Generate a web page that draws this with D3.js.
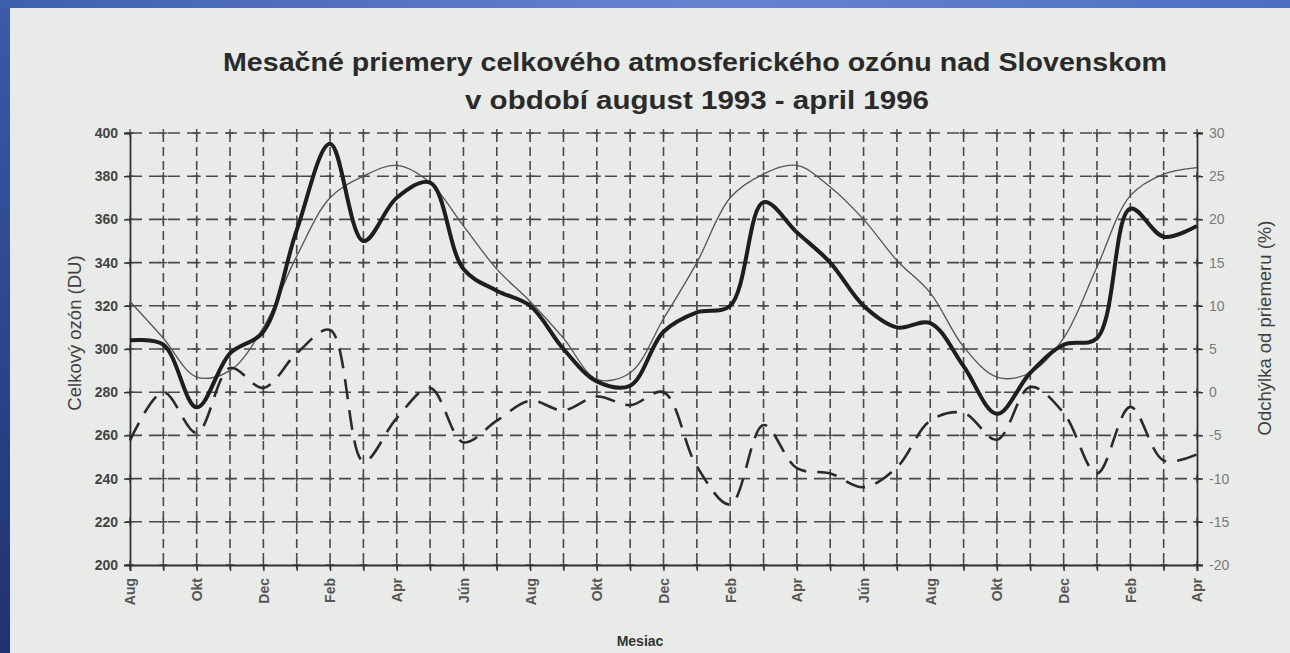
<!DOCTYPE html>
<html>
<head>
<meta charset="utf-8">
<script src="https://cdn.jsdelivr.net/npm/d3@7"></script>
<style>
  body { margin: 0; padding: 0; overflow: hidden; background: #2a4590; }
  text { font-family: "Liberation Sans", Arial, sans-serif; }
</style>
</head>
<body>
<div id="ozone-chart"></div>
<script>
// months Aug 1993 .. Apr 1996
const monthLabels = ["Aug","Sep","Okt","Nov","Dec","Jan","Feb","Mar","Apr","Máj","Jún","Júl",
                     "Aug","Sep","Okt","Nov","Dec","Jan","Feb","Mar","Apr","Máj","Jún","Júl",
                     "Aug","Sep","Okt","Nov","Dec","Jan","Feb","Mar","Apr"]
// monthly mean total ozone (DU) - thick line
const ozoneMonthly = [304,302,273,298,308,355,395,350,370,377,337,327,
                      320,300,285,283,308,317,320,368,354,340,320,310,
                      312,292,270,289,302,305,365,352,357]
// long term mean (DU) - thin line
const ozoneNormal = [322,305,287,290,310,343,370,380,385,377,357,337,
                     322,305,286,289,314,340,370,381,385,375,360,341,
                     326,301,287,289,305,338,371,381,384]
// deviation from mean (%) - dashed line, right axis
const deviation = [-5.6,0,-4.7,2.8,0.5,4.5,7.2,-8,-3,0.5,-5.8,-3.3,
                   -1,-2.1,-0.5,-1.5,0,-8.6,-13,-3.8,-8.8,-9.4,-11,-8.7,
                   -3.3,-2.4,-5.5,0.6,-2.4,-9.4,-1.7,-7.9,-7.2]
const leftTicks = [200,220,240,260,280,300,320,340,360,380,400]
const rightTicks = [-20,-15,-10,-5,0,5,10,15,20,25,30]

const W = 1290, H = 653
const margin = {top: 133, right: 93, bottom: 88, left: 130}
const width = W - margin.left - margin.right
const height = H - margin.top - margin.bottom

const svg = d3.select('#ozone-chart')
    .append('svg')
    .attr('width', W)
    .attr('height', H)

// blue frame + paper
const defs = svg.append('defs')
const gTop = defs.append('linearGradient').attr('id', 'topband')
gTop.append('stop').attr('offset', '0%').attr('stop-color', '#3e5fb0')
gTop.append('stop').attr('offset', '55%').attr('stop-color', '#6584d0')
gTop.append('stop').attr('offset', '100%').attr('stop-color', '#4d6fc2')
const gLeft = defs.append('linearGradient').attr('id', 'leftband')
    .attr('x1', 0).attr('y1', 0).attr('x2', 0).attr('y2', 1)
gLeft.append('stop').attr('offset', '0%').attr('stop-color', '#3b5aa8')
gLeft.append('stop').attr('offset', '100%').attr('stop-color', '#1f3273')

svg.append('rect').attr('width', W).attr('height', H).attr('fill', 'url(#leftband)')
svg.append('rect').attr('width', W).attr('height', 8).attr('fill', 'url(#topband)')
svg.append('rect').attr('x', 10).attr('y', 8).attr('width', W - 10).attr('height', H - 8)
    .attr('fill', '#e8ebe7')

const g = svg.append('g').attr('transform', 'translate(' + margin.left + ',' + margin.top + ')')

const x = d3.scaleLinear().domain([0, monthLabels.length - 1]).range([0, width])
const y = d3.scaleLinear().domain([200, 400]).range([height, 0])
const y2 = d3.scaleLinear().domain([-20, 30]).range([height, 0])

// grid
const gridColor = '#4a4a4a'
g.selectAll('.hgrid').data(leftTicks.filter(d => d > 200))
    .enter().append('line')
    .attr('x1', 0).attr('x2', width)
    .attr('y1', d => y(d)).attr('y2', d => y(d))
    .attr('stroke', gridColor).attr('stroke-width', 1.6)
    .attr('stroke-dasharray', '12,7')
g.selectAll('.vgrid').data(d3.range(1, monthLabels.length - 1))
    .enter().append('line')
    .attr('x1', d => x(d)).attr('x2', d => x(d))
    .attr('y1', 0).attr('y2', height)
    .attr('stroke', gridColor).attr('stroke-width', 1.6)
    .attr('stroke-dasharray', '9,5')

// little crosses at grid crossings
const cross = []
d3.range(0, monthLabels.length).forEach(i => leftTicks.forEach(v => cross.push([i, v])))
g.selectAll('.cross').data(cross).enter().append('path')
    .attr('d', d => 'M' + (x(d[0]) - 4) + ',' + y(d[1]) + 'h8M' + x(d[0]) + ',' + (y(d[1]) - 4) + 'v8')
    .attr('stroke', gridColor).attr('stroke-width', 1.4)

// axes
const leftAxis = g.append('g')
    .call(d3.axisLeft(y).tickValues(leftTicks).tickSize(6).tickPadding(6))
leftAxis.select('.domain').attr('stroke', '#333').attr('stroke-width', 1.8)
leftAxis.selectAll('line').attr('stroke', '#333').attr('stroke-width', 1.4)
leftAxis.selectAll('text').attr('font-size', 14).attr('font-weight', 'bold').attr('fill', '#444')

const rightAxis = g.append('g').attr('transform', 'translate(' + width + ',0)')
    .call(d3.axisRight(y2).tickValues(rightTicks).tickSize(6).tickPadding(6)
        .tickFormat(d => String(d)))
rightAxis.select('.domain').attr('stroke', '#333').attr('stroke-width', 1.8)
rightAxis.selectAll('line').attr('stroke', '#333').attr('stroke-width', 1.4)
rightAxis.selectAll('text').attr('font-size', 14).attr('fill', '#7a7a7a')

const bottomAxis = g.append('g').attr('transform', 'translate(0,' + height + ')')
    .call(d3.axisBottom(x).tickValues(d3.range(0, monthLabels.length)).tickSize(6)
        .tickFormat(i => i % 2 == 0 ? monthLabels[i] : ''))
bottomAxis.select('.domain').attr('stroke', '#333').attr('stroke-width', 1.8)
bottomAxis.selectAll('line').attr('stroke', '#333').attr('stroke-width', 1.4)
bottomAxis.selectAll('text')
    .attr('font-size', 14).attr('font-weight', 'bold').attr('fill', '#555')
    .attr('transform', 'rotate(-90)')
    .attr('text-anchor', 'end')
    .attr('x', -13).attr('y', 0).attr('dy', '0.35em')

// lines
const lineDU = d3.line().x((d, i) => x(i)).y(d => y(d)).curve(d3.curveCatmullRom)
const linePct = d3.line().x((d, i) => x(i)).y(d => y2(d)).curve(d3.curveCatmullRom)

g.append('path').datum(ozoneNormal)
    .attr('fill', 'none').attr('stroke', '#555').attr('stroke-width', 1.3)
    .attr('d', lineDU)
g.append('path').datum(deviation)
    .attr('fill', 'none').attr('stroke', '#2a2a2a').attr('stroke-width', 2.6)
    .attr('stroke-dasharray', '20,11')
    .attr('d', linePct)
g.append('path').datum(ozoneMonthly)
    .attr('fill', 'none').attr('stroke', '#1e1e1e').attr('stroke-width', 4)
    .attr('stroke-linejoin', 'round')
    .attr('d', lineDU)

// titles
svg.append('text').attr('x', 695).attr('y', 71).attr('text-anchor', 'middle')
    .attr('font-size', 26).attr('font-weight', 'bold').attr('fill', '#2a2a2a')
    .attr('textLength', 944).attr('lengthAdjust', 'spacingAndGlyphs')
    .text('Mesačné priemery celkového atmosferického ozónu nad Slovenskom')
svg.append('text').attr('x', 697).attr('y', 109).attr('text-anchor', 'middle')
    .attr('font-size', 26).attr('font-weight', 'bold').attr('fill', '#2a2a2a')
    .attr('textLength', 464).attr('lengthAdjust', 'spacingAndGlyphs')
    .text('v období august 1993 - april 1996')

svg.append('text').attr('transform', 'translate(81,333) rotate(-90)')
    .attr('text-anchor', 'middle').attr('font-size', 18.5).attr('fill', '#404040')
    .text('Celkový ozón (DU)')
svg.append('text').attr('transform', 'translate(1271,328) rotate(-90)')
    .attr('text-anchor', 'middle').attr('font-size', 18.5).attr('fill', '#404040')
    .text('Odchýlka od priemeru (%)')
svg.append('text').attr('x', 640).attr('y', 646).attr('text-anchor', 'middle')
    .attr('font-size', 14).attr('font-weight', 'bold').attr('fill', '#333')
    .text('Mesiac')
</script>
</body>
</html>
